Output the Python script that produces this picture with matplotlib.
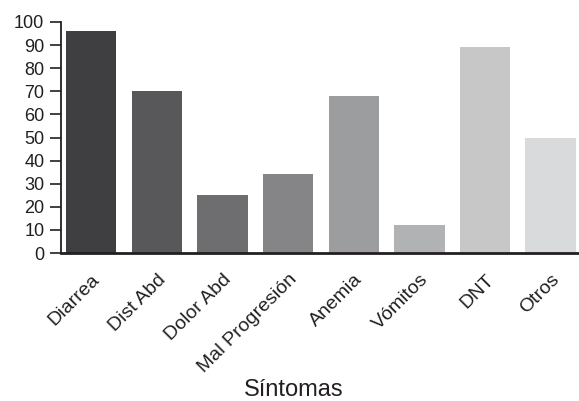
import matplotlib.pyplot as plt

sintomas = ['Diarrea', 'Dist Abd', 'Dolor Abd', 'Mal Progresión', 'Anemia', 'Vómitos', 'DNT', 'Otros']
valores = [96, 70, 25, 34, 68, 12, 89, 50]
colores = ['#3f3f41', '#58585a', '#6e6e70', '#858587', '#9c9d9f', '#b1b2b4', '#c6c7c6', '#d9dadb']

plt.rcParams['font.family'] = ['Liberation Sans', 'DejaVu Sans']

fig = plt.figure(figsize=(5.79, 4.01), dpi=100)
ax = fig.add_axes([61 / 579, 1 - 253 / 401, 1 - 61 / 579, (253 - 22) / 401])

x = list(range(len(sintomas)))
ax.bar(x, valores, width=0.77, color=colores)

ax.set_xlim(-0.46, 7.43)
ax.set_ylim(0, 100)
ax.set_yticks(range(0, 101, 10))
ax.set_xticks(x)
ax.set_xticklabels(sintomas, rotation=45, ha='right', rotation_mode='anchor', fontsize=14)
ax.tick_params(axis='x', length=0, pad=13, colors='#231f20')
ax.tick_params(axis='y', length=8, width=1.2, labelsize=13, pad=4, colors='#231f20')

for s in ['top', 'right']:
    ax.spines[s].set_visible(False)
ax.spines['left'].set_linewidth(1.3)
ax.spines['bottom'].set_linewidth(2)
ax.spines['left'].set_color('#231f20')
ax.spines['bottom'].set_color('#231f20')

fig.text(294 / 579, 0.001, 'Síntomas', ha='center', va='bottom', fontsize=17, color='#231f20')

fig.savefig('out.png', dpi=100)
